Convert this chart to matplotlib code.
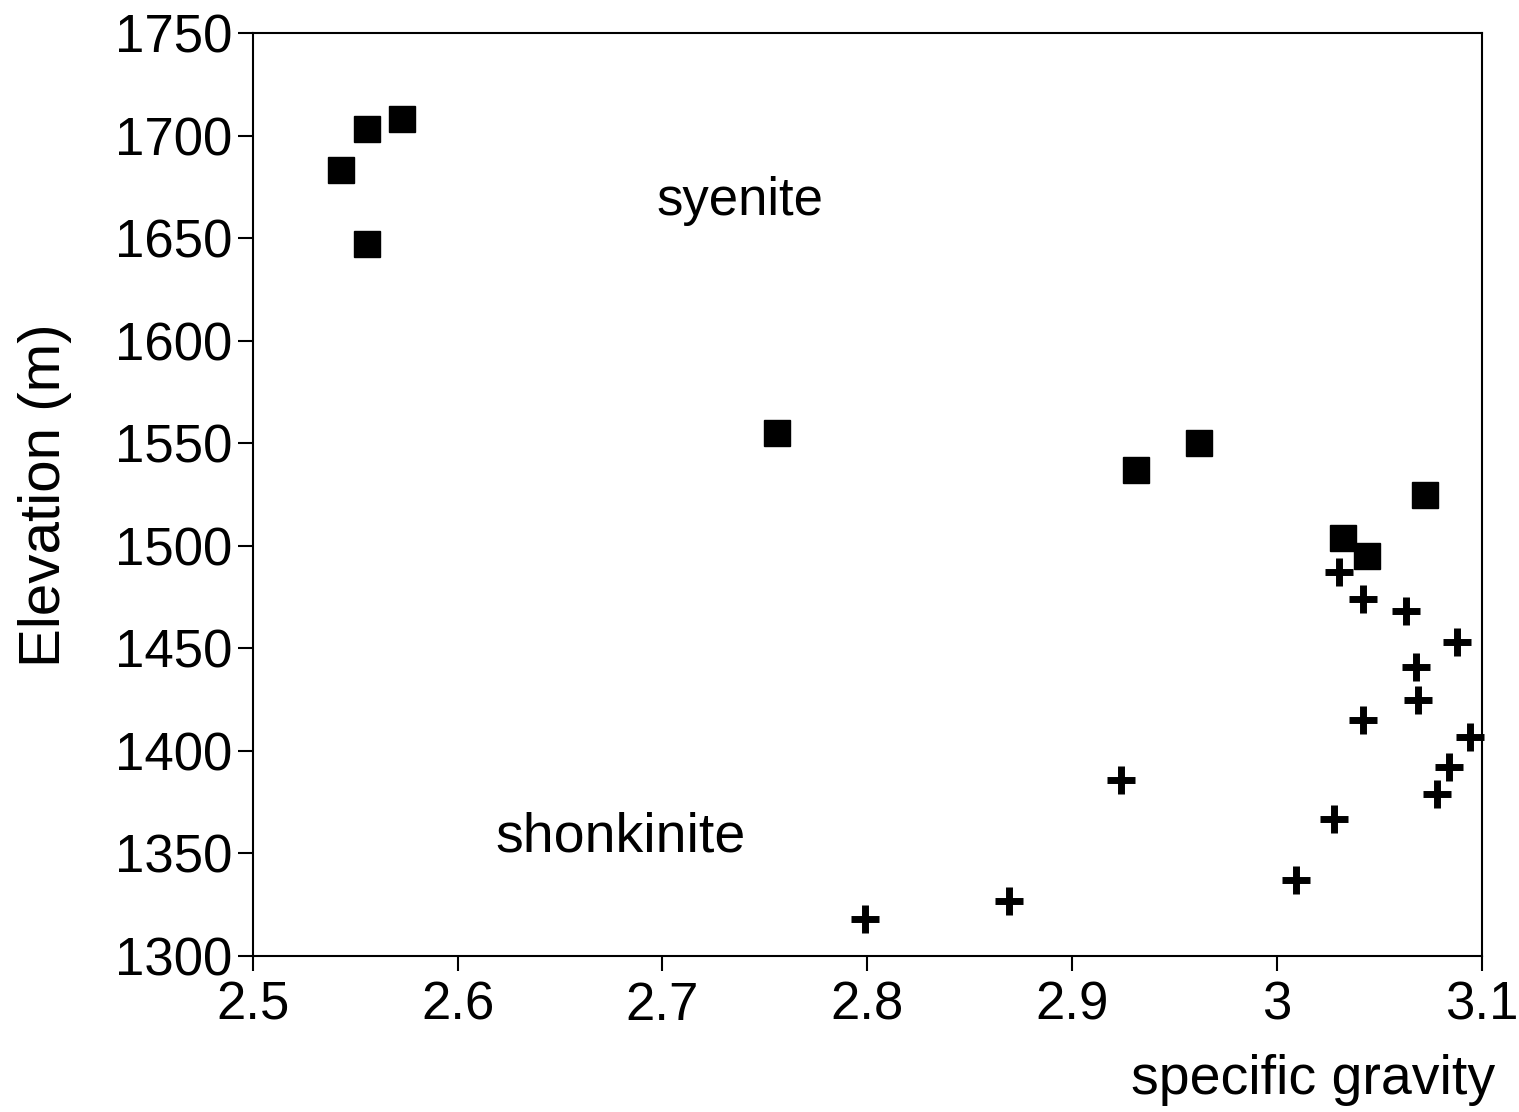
import matplotlib
matplotlib.use("Agg")
import matplotlib.pyplot as plt

# syenite (filled squares)
syenite_sg = [2.543, 2.556, 2.573, 2.556, 2.756, 2.931, 2.962, 3.072, 3.032, 3.044]
syenite_elev = [1683, 1703, 1708, 1647, 1555, 1537, 1550, 1525, 1504, 1495]

# shonkinite (plus signs)
shonk_sg = [3.030, 3.042, 3.063, 3.088, 3.068, 3.069, 3.042, 3.094, 3.084, 3.078,
            3.028, 2.924, 3.009, 2.869, 2.799]
shonk_elev = [1487, 1474, 1468, 1453, 1441, 1425, 1415, 1407, 1392, 1379,
              1367, 1386, 1337, 1327, 1318]

xticks = [2.5, 2.6, 2.7, 2.8, 2.9, 3.0, 3.1]
xticklabels = ["2.5", "2.6", "2.7", "2.8", "2.9", "3", "3.1"]
yticks = [1300, 1350, 1400, 1450, 1500, 1550, 1600, 1650, 1700, 1750]

plt.rcParams['font.family'] = ['Liberation Sans', 'DejaVu Sans']

fig = plt.figure(figsize=(15.19, 11.12), dpi=100)
ax = fig.add_axes([0.1664, 0.1403, 0.9756 - 0.1664, 0.9703 - 0.1403])

ax.plot(syenite_sg, syenite_elev, linestyle='none', marker='s', markersize=19,
        color='black', clip_on=False)
ax.plot(shonk_sg, shonk_elev, linestyle='none', marker='+', markersize=20,
        markeredgewidth=5, color='black', clip_on=False)

ax.set_xlim(2.5, 3.1)
ax.set_ylim(1300, 1750)
ax.set_xticks(xticks)
ax.set_xticklabels(xticklabels)
ax.set_yticks(yticks)
ax.tick_params(axis='both', direction='out', length=11, width=1.5,
               labelsize=38, pad=4, color='black')
ax.tick_params(axis='x', pad=7)
for s in ax.spines.values():
    s.set_linewidth(1.5)

fig.text(45 / 1519, 1 - 495 / 1112, "Elevation (m)", fontsize=42,
         rotation=90, ha='center', va='center')
fig.text(1495 / 1519, 1 - 1080 / 1112, "specific gravity", fontsize=40,
         ha='right', va='center')

ax.text(2.738, 1668, "syenite", fontsize=38, ha='center', va='center')
ax.text(2.6797, 1358, "shonkinite", fontsize=40, ha='center', va='center')

fig.savefig("out.png", dpi=100)
